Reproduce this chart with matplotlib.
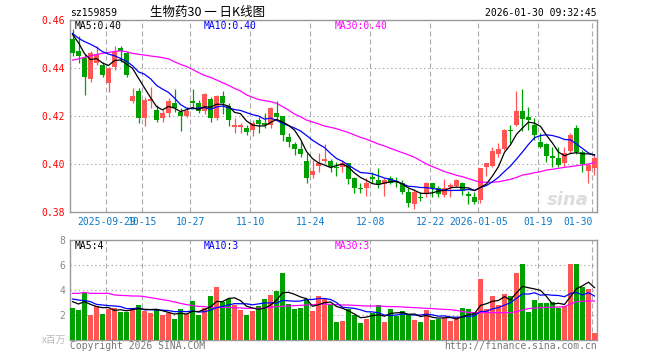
import numpy as np
import pandas as pd
import matplotlib
matplotlib.use("Agg")
import matplotlib.pyplot as plt

plt.rcParams['font.family'] = ['DejaVu Sans Mono', 'Noto Sans CJK SC']

# daily candles, 2025-09-19 .. 2026-01-30
opens = [0.4521, 0.4471, 0.4443, 0.4356, 0.4419, 0.4413, 0.4336, 0.4406, 0.4485, 0.4464,
         0.4262, 0.4304, 0.4192, 0.4264, 0.4225, 0.4192, 0.4214, 0.4254, 0.4218, 0.4200,
         0.4263, 0.4256, 0.4222, 0.4271, 0.4193, 0.4283, 0.4242, 0.4153, 0.4153, 0.4150,
         0.4142, 0.4185, 0.4169, 0.4164, 0.4214, 0.4200, 0.4114, 0.4083, 0.4063, 0.4013,
         0.3956, 0.3993, 0.4011, 0.4013, 0.3989, 0.3986, 0.4006, 0.3943, 0.3900, 0.3901,
         0.3947, 0.3933, 0.3917, 0.3940, 0.3931, 0.3922, 0.3885, 0.3833, 0.3864, 0.3875,
         0.3919, 0.3899, 0.3871, 0.3903, 0.3910, 0.3919, 0.3874, 0.3864, 0.3850, 0.3986,
         0.3992, 0.4042, 0.4061, 0.4142, 0.4163, 0.4222, 0.4196, 0.4163, 0.4090, 0.4083,
         0.4033, 0.4024, 0.4006, 0.4056, 0.4149, 0.4051, 0.3972, 0.3982]
closes = [0.4464, 0.4451, 0.4364, 0.4461, 0.4457, 0.4371, 0.4399, 0.4468, 0.4472, 0.4371,
          0.4283, 0.4192, 0.4267, 0.4272, 0.4183, 0.4213, 0.4264, 0.4232, 0.4200, 0.4222,
          0.4256, 0.4222, 0.4292, 0.4192, 0.4283, 0.4256, 0.4183, 0.4163, 0.4163, 0.4133,
          0.4169, 0.4165, 0.4163, 0.4233, 0.4197, 0.4121, 0.4092, 0.4063, 0.4042, 0.3943,
          0.3972, 0.4003, 0.4019, 0.3989, 0.3985, 0.4003, 0.3936, 0.3899, 0.3897, 0.3922,
          0.3936, 0.3917, 0.3933, 0.3922, 0.3924, 0.3885, 0.3836, 0.3885, 0.3860, 0.3919,
          0.3899, 0.3874, 0.3899, 0.3913, 0.3933, 0.3889, 0.3868, 0.3843, 0.3982, 0.4003,
          0.4056, 0.4061, 0.4142, 0.4139, 0.4222, 0.4186, 0.4183, 0.4121, 0.4072, 0.4035,
          0.4024, 0.3996, 0.4044, 0.4121, 0.4051, 0.4000, 0.3996, 0.4024]
highs = [0.4561, 0.4533, 0.4460, 0.4470, 0.4490, 0.4424, 0.4406, 0.4492, 0.4492, 0.4465,
         0.4315, 0.4315, 0.4281, 0.4322, 0.4246, 0.4225, 0.4274, 0.4311, 0.4232, 0.4236,
         0.4311, 0.4267, 0.4297, 0.4278, 0.4288, 0.4306, 0.4253, 0.4190, 0.4169, 0.4163,
         0.4183, 0.4197, 0.4211, 0.4236, 0.4264, 0.4200, 0.4128, 0.4093, 0.4093, 0.4044,
         0.4017, 0.4044, 0.4083, 0.4019, 0.4010, 0.4017, 0.4006, 0.3947, 0.3919, 0.3940,
         0.3968, 0.3982, 0.3940, 0.3950, 0.3944, 0.3933, 0.3899, 0.3894, 0.3885, 0.3926,
         0.3919, 0.3908, 0.3936, 0.3922, 0.3936, 0.3926, 0.3889, 0.3885, 0.3982, 0.4006,
         0.4072, 0.4089, 0.4144, 0.4163, 0.4306, 0.4313, 0.4236, 0.4190, 0.4128, 0.4089,
         0.4072, 0.4072, 0.4072, 0.4131, 0.4163, 0.4058, 0.4000, 0.4038]
lows = [0.4450, 0.4420, 0.4288, 0.4340, 0.4413, 0.4364, 0.4301, 0.4392, 0.4426, 0.4361,
        0.4253, 0.4169, 0.4158, 0.4232, 0.4174, 0.4174, 0.4197, 0.4218, 0.4139, 0.4197,
        0.4236, 0.4211, 0.4208, 0.4176, 0.4183, 0.4208, 0.4158, 0.4131, 0.4131, 0.4119,
        0.4117, 0.4128, 0.4149, 0.4149, 0.4183, 0.4097, 0.4069, 0.4037, 0.4028, 0.3919,
        0.3940, 0.3968, 0.4003, 0.3968, 0.3950, 0.3968, 0.3917, 0.3881, 0.3881, 0.3868,
        0.3919, 0.3899, 0.3868, 0.3917, 0.3906, 0.3875, 0.3822, 0.3811, 0.3847, 0.3864,
        0.3864, 0.3864, 0.3864, 0.3864, 0.3903, 0.3871, 0.3833, 0.3833, 0.3836, 0.3950,
        0.3989, 0.4031, 0.4058, 0.4089, 0.4158, 0.4139, 0.4142, 0.4100, 0.4065, 0.4010,
        0.3989, 0.3989, 0.3989, 0.4044, 0.4042, 0.3968, 0.3919, 0.3954]
# volume, millions
volumes = [2.56, 2.40, 3.73, 2.00, 2.72, 2.08, 2.45, 2.59, 2.27, 2.27,
           2.59, 2.80, 2.35, 2.16, 2.40, 2.00, 2.13, 1.68, 2.48, 2.08,
           3.12, 2.00, 2.53, 3.52, 4.24, 3.07, 3.25, 2.80, 2.40, 2.00,
           2.35, 2.72, 3.28, 3.60, 3.95, 5.36, 2.88, 2.48, 2.56, 3.25,
           2.32, 3.52, 3.28, 2.85, 1.47, 1.55, 2.51, 2.00, 1.39, 1.71,
           2.19, 2.77, 1.47, 2.48, 1.95, 2.35, 2.03, 1.60, 1.44, 2.40,
           1.60, 1.71, 1.73, 1.55, 1.81, 2.56, 2.48, 2.13, 4.88, 2.48,
           3.52, 2.80, 3.68, 3.52, 5.36, 6.08, 2.27, 3.20, 2.93, 2.93,
           3.04, 2.59, 2.72, 6.08, 6.08, 4.21, 4.05, 0.53]

ma5_head = [0.4540, 0.4505, 0.4460, 0.4435]
ma10_head = [0.4544, 0.4524, 0.4510, 0.4499, 0.4486, 0.4468, 0.4458, 0.4451, 0.4440]
ma30 = [0.4433, 0.4438, 0.4444, 0.4450, 0.4456, 0.4461, 0.4465, 0.4469, 0.4471, 0.4468,
        0.4461, 0.4457, 0.4454, 0.4450, 0.4447, 0.4443, 0.4438, 0.4426, 0.4415, 0.4406,
        0.4394, 0.4381, 0.4369, 0.4361, 0.4350, 0.4339, 0.4328, 0.4315, 0.4304, 0.4288,
        0.4278, 0.4269, 0.4264, 0.4260, 0.4253, 0.4239, 0.4225, 0.4208, 0.4197, 0.4183,
        0.4175, 0.4167, 0.4158, 0.4153, 0.4147, 0.4139, 0.4131, 0.4121, 0.4111, 0.4103,
        0.4093, 0.4083, 0.4075, 0.4065, 0.4056, 0.4047, 0.4038, 0.4028, 0.4014, 0.4000,
        0.3989, 0.3979, 0.3968, 0.3961, 0.3953, 0.3947, 0.3939, 0.3931, 0.3924, 0.3924,
        0.3924, 0.3926, 0.3931, 0.3936, 0.3944, 0.3954, 0.3958, 0.3964, 0.3968, 0.3975,
        0.3978, 0.3982, 0.3986, 0.3989, 0.3993, 0.3996, 0.4000, 0.4006]
vol_ma5_head = [3.07, 2.88, 3.07, 2.85]
vol_ma10_head = [3.28, 3.20, 3.15, 3.07, 2.85, 2.80, 2.75, 2.72, 2.67]
vol_ma30 = [3.73, 3.73, 3.81, 3.73, 3.73, 3.73, 3.73, 3.60, 3.57, 3.55,
            3.52, 3.52, 3.47, 3.39, 3.31, 3.23, 3.15, 3.04, 2.93, 2.83,
            2.75, 2.69, 2.67, 2.61, 2.61, 2.61, 2.59, 2.59, 2.56, 2.53,
            2.53, 2.53, 2.56, 2.61, 2.67, 2.69, 2.72, 2.75, 2.77, 2.80,
            2.83, 2.85, 2.88, 2.85, 2.83, 2.80, 2.80, 2.77, 2.75, 2.72,
            2.72, 2.72, 2.69, 2.67, 2.67, 2.64, 2.61, 2.59, 2.56, 2.53,
            2.51, 2.48, 2.45, 2.43, 2.37, 2.27, 2.21, 2.19, 2.19, 2.19,
            2.19, 2.19, 2.19, 2.19, 2.27, 2.40, 2.51, 2.56, 2.59, 2.61,
            2.61, 2.64, 2.67, 2.88, 3.07, 3.09, 3.12, 3.12]

grid_idx = [6, 12, 20, 30, 40, 50, 60, 68, 78, 87]
grid_labels = ['2025-09-29', '10-15', '10-27', '11-10', '11-24', '12-08',
               '12-22', '2026-01-05', '01-19', '01-30']

RED = '#ff5555'
GREEN = '#00a000'
GRID = '#aaaaaa'


def moving(values, window, head):
    ma = pd.Series(values).rolling(window).mean().to_numpy()
    ma[:len(head)] = head
    return ma


o = np.array(opens)
c = np.array(closes)
x = np.arange(len(c))
ma5 = moving(closes, 5, ma5_head)
ma10 = moving(closes, 10, ma10_head)
vma5 = moving(volumes, 5, vol_ma5_head)
vma10 = moving(volumes, 10, vol_ma10_head)
cols = np.where(c >= o, RED, GREEN)

W, H = 660, 360
fig = plt.figure(figsize=(6.6, 3.6), dpi=100)


def box(l, t, r, b):
    return [l / W, 1 - b / H, (r - l) / W, (b - t) / H]


def px(xp, yp):
    return xp / W, 1 - yp / H


ax = fig.add_axes(box(70, 20, 597, 212))
axv = fig.add_axes(box(70, 240, 597, 340))

for a in (ax, axv):
    a.set_xlim(-0.417, 87.417)
    for s in a.spines.values():
        s.set_color('#999999')
        s.set_linewidth(1)
    a.tick_params(length=0, pad=3.5, labelsize=7)
    a.set_xticks([])
    for g in grid_idx:
        a.axvline(g - 0.37, color=GRID, lw=0.8, ls=(0, (4.5, 2.7)), zorder=0)

# price panel
ax.set_ylim(0.38, 0.46)
ax.set_yticks([0.38, 0.40, 0.42, 0.44, 0.46])
ax.set_yticklabels([f'{v:.2f}' for v in ax.get_yticks()], color='red')
for v in (0.40, 0.42, 0.44):
    ax.axhline(v, color=GRID, lw=0.8, ls=(0, (1.2, 2.5)), zorder=0)

ax.vlines(x, lows, highs, colors=cols, lw=0.9, zorder=2)
ax.bar(x, np.maximum(np.abs(c - o), 0.0004), bottom=np.minimum(o, c),
       width=0.8, color=cols, lw=0, zorder=3)
ax.plot(x, ma30, color='#ff00ff', lw=0.9, zorder=4)
ax.plot(x, ma10, color='#0000ff', lw=0.9, zorder=4)
ax.plot(x, ma5, color='black', lw=0.9, zorder=5)
ax.text(0.985, 0.06, 'sina', transform=ax.transAxes, ha='right', va='center',
        fontsize=13, fontweight='bold', style='italic', color='#dddddd',
        family='DejaVu Sans', zorder=1)

xt = ax.get_xaxis_transform()
for g, lab in zip(grid_idx, grid_labels):
    ha = 'right' if g == grid_idx[-1] else 'center'
    ax.text(g - 0.37, -0.05, lab, transform=xt, ha=ha, va='center',
            fontsize=7, color='#0a78c8', clip_on=False)

# volume panel
axv.set_ylim(0, 8)
axv.set_yticks([2, 4, 6, 8])
axv.set_yticklabels(['2', '4', '6', '8'], color='#888888')
for v in (2, 4, 6):
    axv.axhline(v, color=GRID, lw=0.8, ls=(0, (1.2, 2.5)), zorder=0)
axv.bar(x, volumes, width=0.8, color=cols, lw=0, zorder=3)
axv.plot(x, vol_ma30, color='#ff00ff', lw=0.9, zorder=4)
axv.plot(x, vma10, color='#0000ff', lw=0.9, zorder=4)
axv.plot(x, vma5, color='black', lw=0.9, zorder=5)

# header and legends
fig.text(*px(70, 13), 'sz159859', fontsize=7, va='center', ha='left')
fig.text(*px(150, 12), '生物药30 一 日K线图', fontsize=9, va='center', ha='left',
         family=['Noto Sans CJK SC', 'DejaVu Sans'])
fig.text(*px(597, 13), '2026-01-30 09:32:45', fontsize=7, va='center', ha='right')

fig.text(*px(75, 26), f'MA5:{ma5[-1]:.2f}', fontsize=7, va='center', color='black')
fig.text(*px(204, 26), f'MA10:{ma10[-1]:.2f}', fontsize=7, va='center', color='#0000ff')
fig.text(*px(335, 26), f'MA30:{ma30[-1]:.2f}', fontsize=7, va='center', color='#ff00ff')
fig.text(*px(75, 246), f'MA5:{int(vma5[-1])}', fontsize=7, va='center', color='black')
fig.text(*px(204, 246), f'MA10:{int(vma10[-1])}', fontsize=7, va='center', color='#0000ff')
fig.text(*px(335, 246), f'MA30:{int(vol_ma30[-1])}', fontsize=7, va='center', color='#ff00ff')

fig.text(*px(66, 340), 'x百万', fontsize=7, va='center', ha='right', color='#bbbbbb',
         family=['Noto Sans CJK SC', 'DejaVu Sans'])
fig.text(*px(70, 346), 'Copyright 2026 SINA.COM', fontsize=7, va='center', color='#777777')
fig.text(*px(597, 346), 'http://finance.sina.com.cn', fontsize=7, va='center',
         ha='right', color='#777777')

fig.savefig('out.png', dpi=100)
